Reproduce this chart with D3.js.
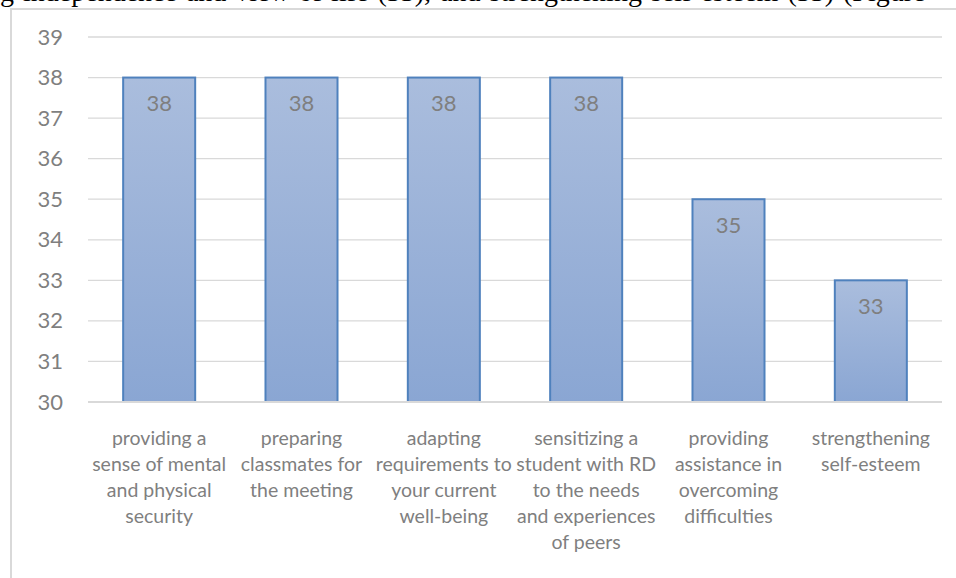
<!DOCTYPE html>
<html><head><meta charset="utf-8">
<script src="https://cdn.jsdelivr.net/npm/d3@7"></script>
<style>html,body{margin:0;padding:0;background:#fff;overflow:hidden}</style>
</head><body>
<script>
const categories = [
  ["providing a","sense of mental","and physical","security"],
  ["preparing","classmates for","the meeting"],
  ["adapting","requirements to","your current","well-being"],
  ["sensitizing a","student with RD","to the needs","and experiences","of peers"],
  ["providing","assistance in","overcoming","difficulties"],
  ["strengthening","self-esteem"]
];
const values = [38, 38, 38, 38, 35, 33];
const yTicks = [30,31,32,33,34,35,36,37,38,39];
const headerText = "g independence and view of life (33), and strengthening self-esteem (33) (Figure";

const W = 956, H = 578;
const svg = d3.select("body").append("svg").attr("width", W).attr("height", H);
const font = "Lato, 'Open Sans', sans-serif";

// header fragment from surrounding document (cropped in the original too)
svg.append("text").attr("x", 0).attr("y", 1)
  .attr("font-family", "'Liberation Serif', 'Times New Roman', serif")
  .attr("font-size", 28).attr("word-spacing", 2).attr("fill", "#000").text(headerText);

// chart frame
svg.append("rect").attr("x", 0).attr("y", 9).attr("width", W).attr("height", H).attr("fill", "#fff");
svg.append("path").attr("d", `M11,${H+2} L11,9 L${W+2},9`)
  .attr("fill", "none").attr("stroke", "#d9d9d9").attr("stroke-width", 2);

const x = d3.scaleBand().domain(d3.range(categories.length)).range([88, 942]).padding(0);
const y = d3.scaleLinear().domain([30, 39]).range([402, 37]);

const defs = svg.append("defs");
const grad = defs.append("linearGradient").attr("id", "g").attr("x1", 0).attr("y1", 0).attr("x2", 0).attr("y2", 1);
grad.append("stop").attr("offset", "0%").attr("stop-color", "#aabddd");
grad.append("stop").attr("offset", "100%").attr("stop-color", "#8aa6d3");

// gridlines
svg.append("g").selectAll("line").data(yTicks.filter(t => t > 30)).join("line")
  .attr("x1", 88).attr("x2", 942).attr("y1", d => y(d)).attr("y2", d => y(d))
  .attr("stroke", "#d9d9d9").attr("stroke-width", 1.3);

// y axis labels
const yAxis = d3.axisLeft(y).tickValues(yTicks).tickSize(0).tickPadding(0).tickFormat(d3.format("d"));
const ya = svg.append("g").attr("transform", "translate(63,0)").call(yAxis);
ya.select(".domain").remove();
ya.selectAll("text").attr("font-family", font).attr("font-size", 22).attr("fill", "#7f7f7f");

const bw = x.bandwidth() * 0.506;
// bars
svg.append("g").selectAll("rect").data(values).join("rect")
  .attr("x", (d, i) => x(i) + (x.bandwidth() - bw) / 2)
  .attr("y", d => y(d))
  .attr("width", bw)
  .attr("height", d => y(30) - y(d))
  .attr("fill", "url(#g)")
  .attr("stroke", "#4f81bd").attr("stroke-width", 2);

// x axis line
svg.append("line").attr("x1", 88).attr("x2", 942).attr("y1", y(30)).attr("y2", y(30))
  .attr("stroke", "#d9d9d9").attr("stroke-width", 2);

// value labels
svg.append("g").selectAll("text").data(values).join("text")
  .attr("x", (d, i) => x(i) + x.bandwidth() / 2)
  .attr("y", d => y(d) + 28)
  .attr("text-anchor", "middle").attr("dominant-baseline", "middle")
  .attr("font-family", font).attr("font-size", 22).attr("fill", "#7f7f7f")
  .text(d => d);

// category labels
const cl = svg.append("g").selectAll("text").data(categories).join("text")
  .attr("text-anchor", "middle").attr("font-family", font).attr("font-size", 19.5).attr("fill", "#7f7f7f");
cl.each(function(lines, i) {
  d3.select(this).selectAll("tspan").data(lines).join("tspan")
    .attr("x", x(i) + x.bandwidth() / 2)
    .attr("y", (d, j) => 445 + j * 26)
    .text(d => d);
});
</script>
</body></html>
